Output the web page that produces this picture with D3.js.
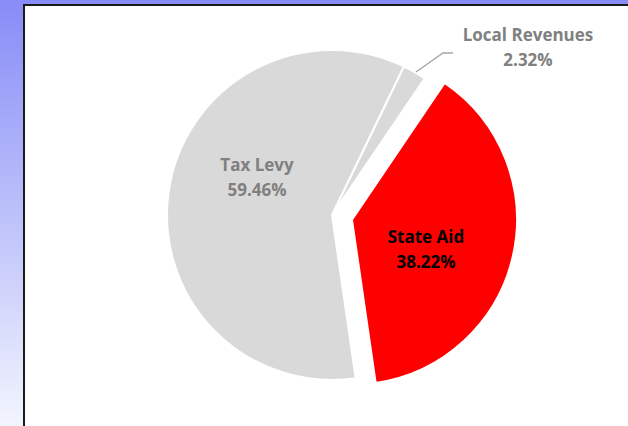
<!DOCTYPE html>
<html><head><meta charset="utf-8">
<script src="https://cdn.jsdelivr.net/npm/d3@7"></script>
<style>html,body{margin:0;padding:0;}svg{display:block;}</style>
</head><body>
<script>
const categories = ["Local Revenues", "State Aid", "Tax Levy"];
const values = [2.32, 38.22, 59.46];
const labels = ["2.32%", "38.22%", "59.46%"];
const colors = ["#d9d9d9", "#ff0000", "#d9d9d9"];

const W = 628, H = 426;
const svg = d3.select("body").append("svg").attr("width", W).attr("height", H);
const defs = svg.append("defs");
const g = defs.append("linearGradient").attr("id", "bg").attr("x1", 0).attr("y1", 0).attr("x2", 0).attr("y2", 1);
g.append("stop").attr("offset", "0%").attr("stop-color", "#878cf7");
g.append("stop").attr("offset", "100%").attr("stop-color", "#f2f5fd");
svg.append("rect").attr("width", W).attr("height", H).attr("fill", "url(#bg)");
svg.append("rect").attr("x", 24).attr("y", 5).attr("width", W + 10).attr("height", H + 10)
  .attr("fill", "#fff").attr("stroke", "#1a1a1a").attr("stroke-width", 2);

const cx = 332, cy = 215, r = 165;
const start = 25.8 * Math.PI / 180;
const pie = d3.pie().sort(null).value(d => d).startAngle(start).endAngle(start + 2 * Math.PI);
const arcs = pie(values);
const arc = d3.arc().innerRadius(0).outerRadius(r);
const explode = [0, 20.5, 0];

const chart = svg.append("g").attr("transform", `translate(${cx},${cy})`);
arcs.forEach((a, i) => {
  const mid = (a.startAngle + a.endAngle) / 2;
  const dx = Math.sin(mid) * explode[i], dy = -Math.cos(mid) * explode[i];
  chart.append("path").attr("d", arc(a)).attr("transform", `translate(${dx},${dy})`)
    .attr("fill", colors[i]).attr("stroke", "#fff").attr("stroke-width", 2);
});

const font = "'Open Sans', sans-serif";
function label(x, y, lines, color) {
  const t = svg.append("text").attr("text-anchor", "middle").attr("fill", color)
    .attr("font-family", font).attr("font-weight", "bold").attr("font-size", 17);
  lines.forEach((s, k) => t.append("tspan").attr("x", x).attr("y", y + k * 24.5).text(s));
}
// leader line for Local Revenues
svg.append("polyline").attr("points", "416,72 443,53 453,53").attr("fill", "none")
  .attr("stroke", "#a6a6a6").attr("stroke-width", 1.3);
label(528, 41, [categories[0], labels[0]], "#808080");
label(426, 243, [categories[1], labels[1]], "#000");
label(257, 171, [categories[2], labels[2]], "#808080");
</script>
</body></html>
